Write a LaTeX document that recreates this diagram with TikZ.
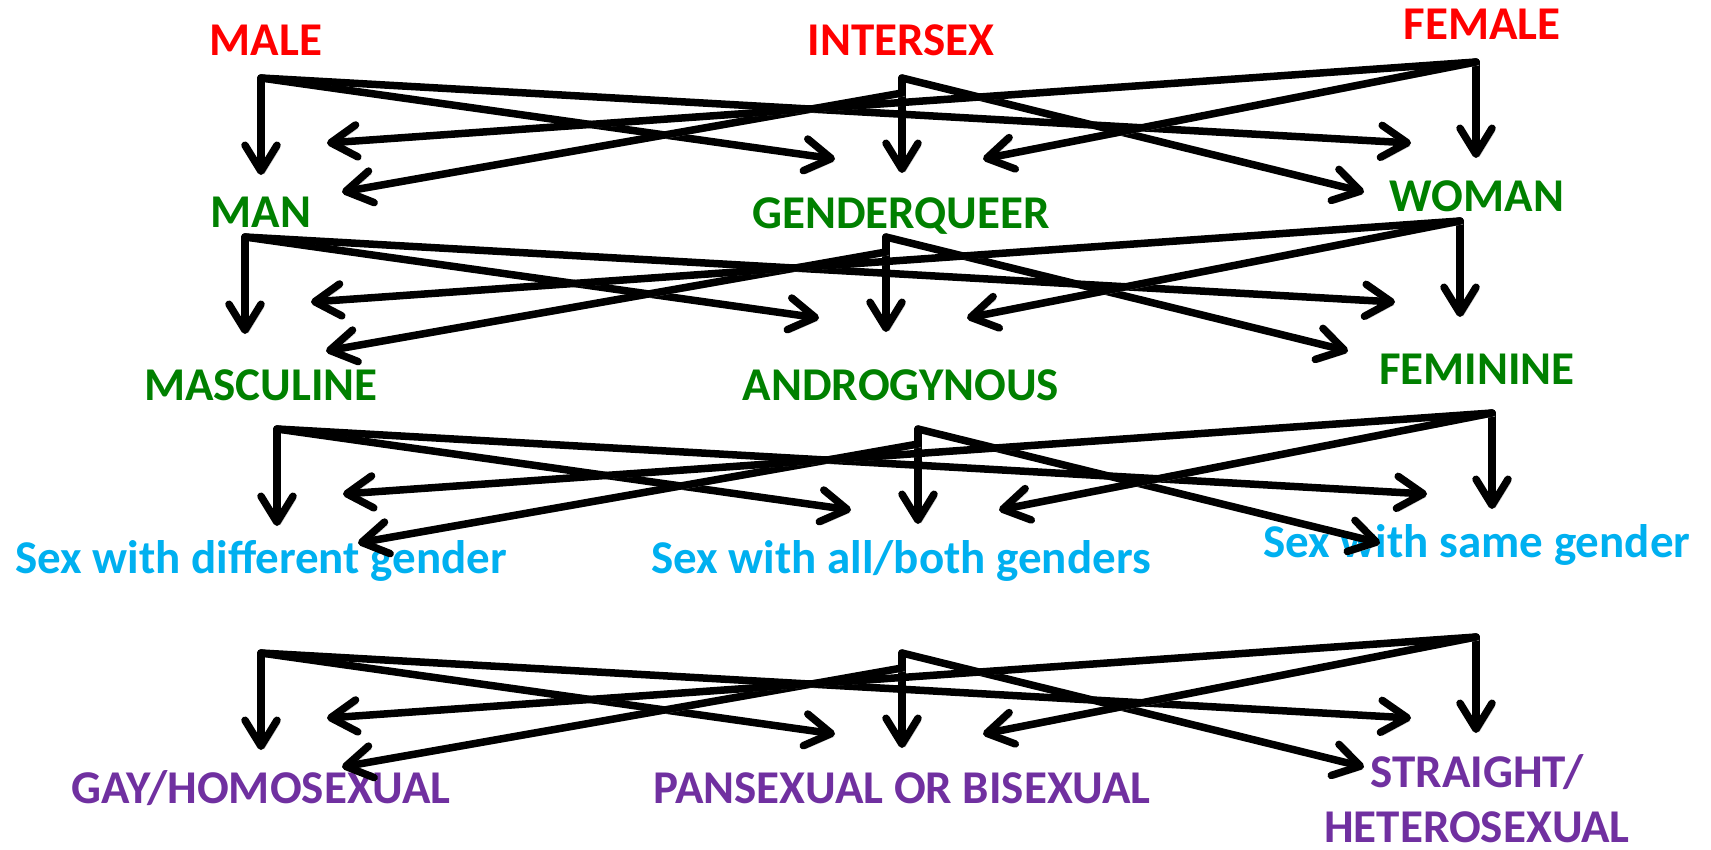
\documentclass[tikz,border=0pt]{standalone}
\usepackage{fontspec}
\setmainfont{Carlito}
\usetikzlibrary{arrows.meta}
\definecolor{cred}{RGB}{255,0,0}
\definecolor{cgreen}{RGB}{0,128,0}
\definecolor{ccyan}{RGB}{0,176,240}
\definecolor{cpurple}{RGB}{112,48,160}
\tikzset{
  lbl/.style={anchor=base, inner sep=0pt, font=\fontsize{47}{50}\selectfont\bfseries},
  sexlbl/.style={lbl, text=cred},
  genlbl/.style={lbl, text=cgreen},
  actlbl/.style={lbl, text=ccyan},
  orilbl/.style={lbl, text=cpurple},
  conn/.style={line width=7.5pt, line cap=round, line join=round,
    -{Straight Barb[length=26pt, width=32pt, line width=7.5pt, round]},
    preaction={draw=black!22, transform canvas={shift={(3pt,-3pt)}}}}
}
\begin{document}
\begin{tikzpicture}[x=1pt, y=-1pt]
\useasboundingbox[fill=white] (0,0) rectangle (1711,849);
% labels
\node[sexlbl] (male) at (266,55) {MALE};
\node[sexlbl] (intersex) at (901,55) {INTERSEX};
\node[sexlbl] (female) at (1482,39) {FEMALE};
\node[genlbl] (man) at (261,227) {MAN};
\node[genlbl] (genderqueer) at (901,228) {GENDERQUEER};
\node[genlbl] (woman) at (1477,211) {WOMAN};
\node[genlbl] (masculine) at (261,400) {MASCULINE};
\node[genlbl] (androgynous) at (901,400) {ANDROGYNOUS};
\node[genlbl] (feminine) at (1477,384) {FEMININE};
\node[actlbl] (sexdiff) at (261,573) {Sex with different gender};
\node[actlbl] (sexall) at (901,573) {Sex with all/both genders};
\node[actlbl] (sexsame) at (1477,557) {Sex with same gender};
\node[orilbl] (gay) at (261,803) {GAY/HOMOSEXUAL};
\node[orilbl] (pan) at (902,803) {PANSEXUAL OR BISEXUAL};
\node[orilbl] (straight) at (1477,787) {STRAIGHT/};
\node[orilbl] (hetero) at (1477,842) {HETEROSEXUAL};
% connector rows
\foreach \r/\dx/\dy in {1/0/0, 2/-16/159, 3/16/351, 4/0/575} {
  \begin{scope}[shift={(\dx,\dy)}]
    \coordinate (cL\r) at (261,78);
    \coordinate (cC\r) at (902,78);
    \coordinate (cCl\r) at (902,93);
    \coordinate (cR\r) at (1476,62);
    \coordinate (tLv\r) at (261,175);
    \coordinate (tLu\r) at (327,143);
    \coordinate (tLd\r) at (342,192);
    \coordinate (tCl\r) at (835,159);
    \coordinate (tCv\r) at (902,173);
    \coordinate (tCr\r) at (983,159);
    \coordinate (tRu\r) at (1411,143);
    \coordinate (tRd\r) at (1364,192);
    \coordinate (tRv\r) at (1476,158);
    % from left source
    \draw[conn] (cL\r) -- (tLv\r);
    \draw[conn] (cL\r) -- (tCl\r);
    \draw[conn] (cL\r) -- (tRu\r);
    % from centre source
    \draw[conn] (cC\r) -- (tCv\r);
    \draw[conn] (cCl\r) -- (tLd\r);
    \draw[conn] (cC\r) -- (tRd\r);
    % from right source
    \draw[conn] (cR\r) -- (tRv\r);
    \draw[conn] (cR\r) -- (tLu\r);
    \draw[conn] (cR\r) -- (tCr\r);
  \end{scope}
}
\end{tikzpicture}
\end{document}
